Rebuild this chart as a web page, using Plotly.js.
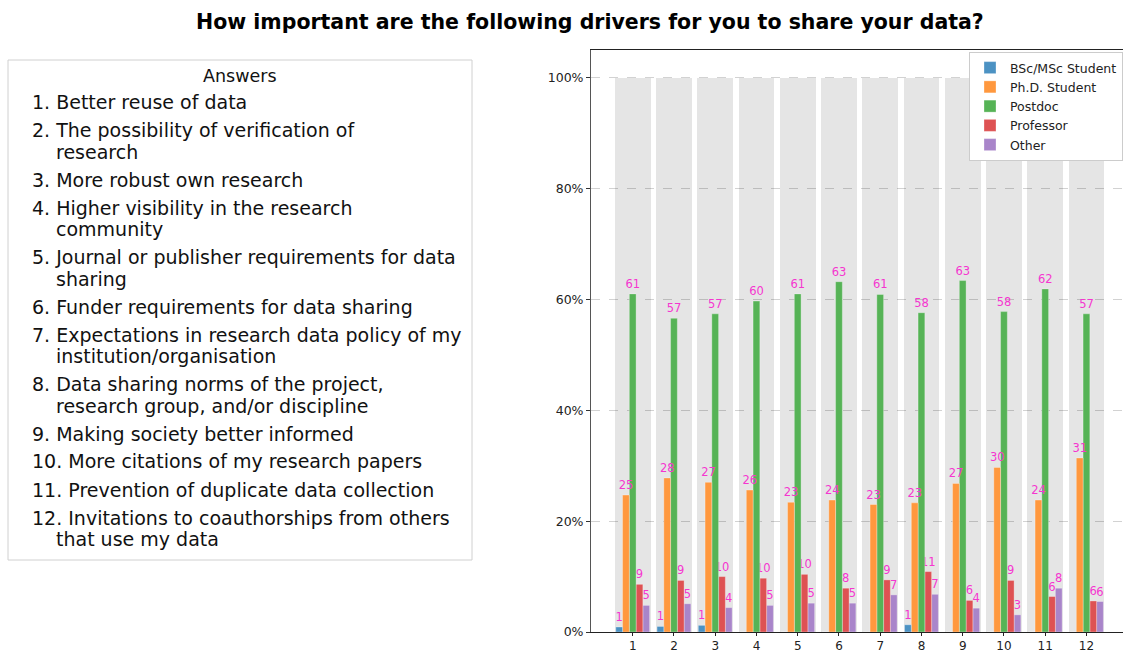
<!DOCTYPE html>
<html>
<head>
<meta charset="utf-8">
<script src="https://cdn.plot.ly/plotly-3.0.1.min.js"></script>
<style>html,body{margin:0;padding:0;background:#fff;}#chart{width:1123px;height:652px;}</style>
</head>
<body>
<div id="chart"></div>
<script>
// ---- data ----
const categories = [1,2,3,4,5,6,7,8,9,10,11,12];
const seriesNames = ['BSc/MSc Student','Ph.D. Student','Postdoc','Professor','Other'];
const bsc     = [0.9, 1.0, 1.2, 0, 0, 0, 0, 1.3, 0, 0, 0, 0];
const phd     = [24.7, 27.8, 27.0, 25.6, 23.4, 23.8, 23.0, 23.3, 26.8, 29.7, 23.8, 31.4];
const postdoc = [61.0, 56.6, 57.4, 59.7, 61.0, 63.2, 60.9, 57.6, 63.4, 57.8, 61.9, 57.4];
const prof    = [8.6, 9.3, 10.0, 9.7, 10.4, 7.9, 9.4, 10.9, 5.7, 9.3, 6.4, 5.6];
const other   = [4.8, 5.1, 4.4, 4.8, 5.2, 5.2, 6.7, 6.8, 4.3, 3.1, 7.9, 5.5];
const total   = categories.map(() => 100);
const answers = [
  ['Better reuse of data'],
  ['The possibility of verification of', 'research'],
  ['More robust own research'],
  ['Higher visibility in the research', 'community'],
  ['Journal or publisher requirements for data', 'sharing'],
  ['Funder requirements for data sharing'],
  ['Expectations in research data policy of my', 'institution/organisation'],
  ['Data sharing norms of the project,', 'research group, and/or discipline'],
  ['Making society better informed'],
  ['More citations of my research papers'],
  ['Prevention of duplicate data collection'],
  ['Invitations to coauthorships from others', 'that use my data']
];
const titleText = 'How important are the following drivers for you to share your data?';
const yTicks = [0, 20, 40, 60, 80, 100];

// ---- style ----
const colors = ['#4c92c3', '#ff983e', '#56b356', '#de5253', '#a985ca'];
const labelColor = '#f536d0';
const W = 1123, H = 652;
const L = 591, R = 1123, T = 50, B = 632;
const px = x => (x - L) / (R - L);
const py = y => (B - y) / (B - T);

const allSeries = [bsc, phd, postdoc, prof, other];
const bw = 0.164;
const traces = [{
  type: 'bar', x: categories, y: total, width: 0.87, offset: -0.435,
  marker: {color: 'rgba(0,0,0,0.1)'}, showlegend: false, hoverinfo: 'skip'
}];
// add series in reverse order so each label sits on top of the bar to its right
for (let i = allSeries.length - 1; i >= 0; i--) {
  const vals = allSeries[i];
  traces.push({
    type: 'bar', name: seriesNames[i], x: categories, y: vals,
    width: bw, offset: -0.41 + i * bw,
    marker: {color: colors[i], line: {color: 'rgba(255,255,255,0.5)', width: 0.6}},
    text: vals.map(v => v > 0.5 ? String(Math.round(v)) : ''),
    textposition: 'outside', constraintext: 'none', cliponaxis: false,
    textfont: {color: labelColor, size: 11.5, family: 'DejaVu Sans'}
  });
}

const annotations = [{
  text: '<b>' + titleText + '</b>', xref: 'paper', yref: 'paper',
  x: px(590), y: py(22), xanchor: 'center', yanchor: 'middle', showarrow: false,
  font: {size: 20.5, family: 'DejaVu Sans', color: '#000'}
}, {
  text: 'Answers', xref: 'paper', yref: 'paper',
  x: px(240), y: py(76), xanchor: 'center', yanchor: 'middle', showarrow: false,
  font: {size: 17.5, family: 'DejaVu Sans', color: '#111'}
}];
let yCur = 102;
answers.forEach((lines, i) => {
  lines.forEach((ln, j) => {
    const first = j === 0;
    annotations.push({
      text: first ? (i + 1) + '. ' + ln : ln,
      xref: 'paper', yref: 'paper',
      x: px(first ? 30 : 54), y: py(yCur), xanchor: 'left', yanchor: 'middle',
      showarrow: false, font: {size: 19, family: 'DejaVu Sans', color: '#111'}
    });
    yCur += (j < lines.length - 1) ? 21.5 : 0;
  });
  yCur += 28;
});

const layout = {
  width: W, height: H,
  margin: {l: L, r: W - R, t: T, b: H - B, pad: 0},
  paper_bgcolor: '#fff', plot_bgcolor: '#fff',
  barmode: 'overlay', bargap: 0,
  font: {family: 'DejaVu Sans', color: '#222', size: 12.5},
  xaxis: {
    range: [-0.011, 12.886], tickmode: 'array', tickvals: categories,
    ticktext: categories.map(String), ticks: 'outside', ticklen: 3, tickcolor: '#222',
    showgrid: false, zeroline: false, showline: true, linecolor: '#222', linewidth: 1,
    mirror: true, tickfont: {size: 12, color: '#222'}
  },
  yaxis: {
    range: [0, 105], tickmode: 'array', tickvals: yTicks,
    ticktext: yTicks.map(v => v + '%'), ticks: 'outside', ticklen: 4, tickcolor: '#333',
    showgrid: true, gridcolor: '#d2d2d2', griddash: 'dash', gridwidth: 1,
    zeroline: false, showline: true, linecolor: '#555', linewidth: 1,
    tickfont: {size: 12.5, color: '#222'}
  },
  legend: {
    x: 1, xanchor: 'right', y: py(52), yanchor: 'top',
    bgcolor: '#fff', bordercolor: '#cccccc', borderwidth: 1,
    font: {size: 12.5, family: 'DejaVu Sans', color: '#222'},
    tracegroupgap: 0, traceorder: 'reversed'
  },
  shapes: [{
    type: 'rect', xref: 'paper', yref: 'paper',
    x0: px(8), x1: px(472), y0: py(560), y1: py(60),
    line: {color: '#d0d0d0', width: 1}, fillcolor: 'rgba(255,255,255,0)'
  }],
  annotations: annotations,
  showlegend: true
};

Plotly.newPlot('chart', traces, layout, {displayModeBar: false, staticPlot: true});
</script>
</body>
</html>
